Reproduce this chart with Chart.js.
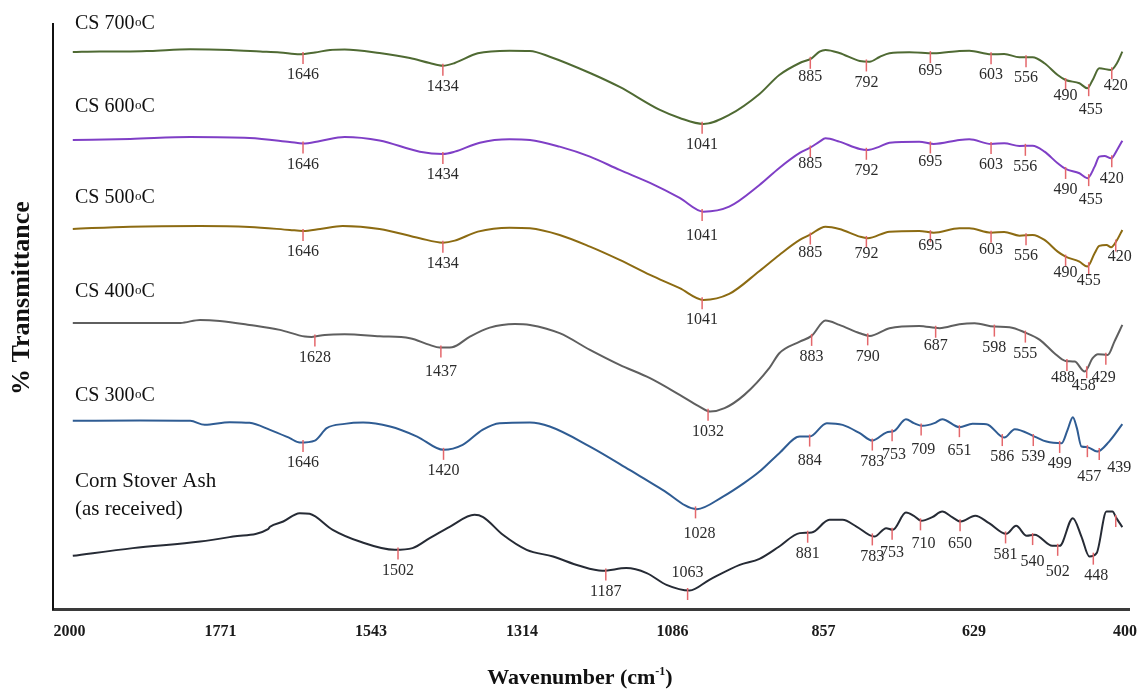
<!DOCTYPE html>
<html>
<head>
<meta charset="utf-8">
<title>FTIR spectra of corn stover ash</title>
<script src="https://cdn.jsdelivr.net/npm/chart.js@4.4.1/dist/chart.umd.min.js"></script>
<style>
  html, body { margin: 0; padding: 0; background: #ffffff; }
  #ftir { display: block; }
</style>
</head>
<body>
<canvas id="ftir" width="1137" height="690"></canvas>
<script>
// wavenumber axis (cm-1), drawn high -> low
const tickValues = [2000, 1771, 1543, 1314, 1086, 857, 629, 400];

const seriesNames = ['CS 700', 'CS 600', 'CS 500', 'CS 400', 'CS 300', 'Corn Stover Ash'];
const seriesColors = ['#4f6a33', '#7f3fc6', '#8c6b12', '#5f5f5f', '#2f5c93', '#262b35'];
// vertical offset of each trace (a.u.)
const seriesOffsets = [558, 470, 381, 287, 189, 54];

// traces: [wavenumber, relative transmittance (a.u.)]
const cs700 = [
  [1995, 0], [1954, 0.5], [1908, 0.5], [1878, 1], [1817, 2.7], [1757, 2], [1711, 0.5], [1681, -0.5],
  [1651, -2.3], [1628, -0.5], [1605, 2], [1583, 2.5], [1530, -1], [1484, -6], [1454, -11], [1434, -13.7],
  [1416, -11], [1381, -1.3], [1333, 1.3], [1302, 1], [1272, -4.7], [1211, -21], [1166, -35], [1105, -58],
  [1075, -66], [1039, -72], [1000, -63], [954, -42], [924, -23], [893, -11], [875, -6.3], [863, 0.3],
  [854, 2], [833, -1], [802, -9], [787, -9.7], [772, -5], [757, -1.3], [727, -0.3], [690, -1.3],
  [651, 1], [636, 1.3], [603, -2.3], [583, -2], [560, -5.3], [540, -5.3], [522, -11.3], [502, -23],
  [490, -28], [469, -31.3], [457, -36.3], [449, -28], [439, -16.3], [421, -18], [412, -11], [404, 0.3]
];
const cs600 = [
  [1995, 0], [1908, 1], [1817, 3], [1727, 2], [1666, -2], [1646, -3.5], [1620, -1], [1583, 3],
  [1530, -0.5], [1469, -11.7], [1434, -14], [1416, -11.7], [1378, -2.7], [1333, 0.7], [1302, 0],
  [1257, -6.7], [1211, -16.7], [1166, -30], [1120, -43], [1075, -58], [1039, -71.7], [1000, -66.7],
  [954, -45], [924, -28], [893, -13], [878, -8], [863, -1.7], [854, 1.7], [833, -1.7], [802, -9],
  [790, -10], [772, -6.7], [757, -2.7], [712, -1.7], [690, -4], [651, 0], [636, 0.7], [603, -4],
  [583, -3.3], [560, -6], [540, -5.7], [522, -11.7], [502, -23.3], [490, -29], [469, -33.3],
  [457, -38.3], [446, -26.7], [439, -16.7], [431, -16], [421, -18.3], [412, -10], [404, -0.7]
];
const cs500 = [
  [1995, 0], [1908, 2.3], [1802, 3], [1727, 2], [1666, -1], [1646, -2], [1620, 0], [1586, 3],
  [1530, 0], [1469, -9.3], [1434, -13.7], [1416, -11.7], [1381, -2.7], [1333, 1.3], [1302, 0.7],
  [1257, -6], [1211, -17.7], [1166, -31], [1120, -46], [1075, -59.3], [1039, -71], [1000, -65],
  [954, -42], [924, -26], [893, -11], [878, -6], [854, 2.3], [833, 0], [802, -7.7], [790, -9.3],
  [757, -2.7], [712, -2], [690, -3.7], [651, 0.7], [636, 0.7], [603, -3.7], [583, -3], [560, -6.7],
  [540, -6], [522, -11], [502, -22.7], [490, -27.7], [469, -32.7], [457, -37.7], [446, -24.3],
  [439, -17], [428, -16], [421, -18.3], [412, -11], [404, -1]
];
const cs400 = [
  [1995, 0], [1832, 0], [1802, 3], [1772, 2], [1727, -2], [1681, -7], [1643, -13.7], [1633, -14],
  [1613, -12], [1583, -11.3], [1530, -13.3], [1484, -15.3], [1454, -22], [1439, -24.7], [1420, -24.3],
  [1393, -13.7], [1363, -4.7], [1325, -1], [1302, -2], [1257, -10.3], [1211, -27], [1166, -42],
  [1120, -55.3], [1075, -72], [1045, -83.7], [1029, -88.7], [1007, -85.3], [977, -72], [939, -45],
  [924, -30.3], [893, -18.7], [875, -13], [854, 2.3], [833, -2], [802, -10.3], [787, -13],
  [757, -5.3], [712, -3], [681, -5.3], [651, -1.3], [628, -0.3], [598, -3.7], [575, -4.3],
  [551, -9.7], [529, -17], [507, -30.3], [490, -38], [476, -38.7], [461, -48.7], [449, -35.3],
  [441, -31.3], [426, -32], [416, -18.7], [404, -2]
];
const cs300 = [
  [1995, 0], [1893, 0.3], [1817, 0], [1795, -4], [1757, -1.3], [1727, -2], [1696, -9], [1666, -17.3],
  [1651, -21.7], [1628, -19.7], [1610, -7.3], [1583, -3], [1555, -1.7], [1514, -5.7], [1473, -15.7],
  [1433, -29], [1404, -24], [1374, -9], [1348, -2.3], [1302, -1.7], [1272, -5.7], [1211, -25.7],
  [1151, -49], [1101, -69], [1049, -88.3], [1010, -76], [977, -62], [954, -50.7], [924, -32.3],
  [893, -15.7], [878, -15.7], [852, -2.3], [828, -4], [802, -12.3], [783, -19.7], [762, -11.7],
  [749, -9.7], [732, 1.7], [720, -2.3], [707, -5], [689, -2.3], [677, 1.7], [651, -6.3], [631, -3],
  [610, -3.3], [583, -16.7], [567, -8.3], [537, -15.7], [519, -20.7], [496, -22.3], [487, -9],
  [479, 3.7], [473, -7], [466, -25.7], [457, -26.3], [442, -30.7], [424, -20.7], [404, -3.3]
];
const cornAsh = [
  [1995, 0], [1904, 7.7], [1802, 14.3], [1752, 19.3], [1699, 26.7], [1696, 29], [1676, 34.3],
  [1651, 42.7], [1636, 42], [1601, 26], [1560, 14.3], [1507, 6], [1480, 7.7], [1454, 17.7],
  [1423, 29.3], [1386, 41], [1373, 38.7], [1343, 21], [1307, 6], [1267, -0.7], [1227, -10],
  [1192, -15], [1156, -12.3], [1125, -17.3], [1095, -29], [1060, -34.7], [1030, -24], [984, -9],
  [954, -3], [924, 9.3], [893, 22.7], [875, 23.3], [848, 36], [828, 36], [807, 29.3], [780, 19.3],
  [762, 27.7], [752, 26], [732, 43.3], [720, 40], [709, 35], [692, 38.7], [677, 44.3], [662, 38.7],
  [649, 34.3], [627, 40], [606, 32.7], [580, 22], [565, 30], [549, 20], [537, 21], [510, 10],
  [499, 10], [479, 37.7], [466, 19.3], [454, -0.7], [443, 2.7], [428, 44.3], [419, 44.3],
  [413, 37.7], [404, 28.7]
];

// marked bands: [label, wavenumber where the mark sits]
const cs700Peaks = [[1646, 1646], [1434, 1434], [1041, 1041], [885, 877], [792, 792], [695, 695],
  [603, 603], [556, 550], [490, 490], [455, 455], [420, 420]];
const cs600Peaks = [[1646, 1646], [1434, 1434], [1041, 1041], [885, 877], [792, 792], [695, 695],
  [603, 603], [556, 551], [490, 490], [455, 455], [420, 420]];
const cs500Peaks = [[1646, 1646], [1434, 1434], [1041, 1041], [885, 877], [792, 792], [695, 695],
  [603, 603], [556, 550], [490, 490], [455, 455], [420, 414]];
const cs400Peaks = [[1628, 1628], [1437, 1437], [1032, 1032], [883, 875], [790, 790], [687, 687],
  [598, 598], [555, 551], [488, 488], [458, 458], [429, 429]];
const cs300Peaks = [[1646, 1646], [1420, 1433], [1028, 1051], [884, 878], [783, 783], [753, 753],
  [709, 709], [651, 651], [586, 586], [539, 539], [499, 499], [457, 457], [439, 439]];
const cornPeaks = [[1502, 1502], [1187, 1187], [1063, 1063], [881, 881], [783, 783], [753, 753],
  [710, 710], [650, 650], [581, 581], [540, 540], [502, 502], [448, 448], ['', 414]];

const traces = [cs700, cs600, cs500, cs400, cs300, cornAsh];
const peakSets = [cs700Peaks, cs600Peaks, cs500Peaks, cs400Peaks, cs300Peaks, cornPeaks];

// label placement tweaks [dx, dy] (px) where a label sits off the default spot
const labelNudges = [
  {885: [0, 18], 695: [0, 18], 490: [0, 16], 455: [2, 24], 420: [4, 17]},
  {1041: [0, 25], 885: [0, 16], 695: [0, 18], 455: [2, 24]},
  {885: [0, 18], 792: [0, 16], 695: [0, 14], 603: [0, 17], 490: [0, 16], 455: [0, 17], 420: [4, 15]},
  {1437: [0, 24], 687: [0, 18], 488: [-4, 17], 458: [-3, 18], 429: [-2, 23]},
  {1028: [4, 25], 884: [0, 24], 753: [2, 24], 709: [2, 24], 651: [0, 24], 457: [2, 30], 439: [20, 18]},
  {1063: [0, -17], 753: [0, 23], 710: [3, 23], 650: [0, 23], 540: [0, 27], 502: [0, 26], 448: [3, 21]}
];
// where each trace name sits above its trace (a.u. above the offset)
const nameLift = [28, 33, 31, 31, 25, 74];

function valueAt(points, wn) {
  for (let i = 0; i < points.length - 1; i++) {
    const a = points[i], b = points[i + 1];
    if (wn <= a.x && wn >= b.x) {
      const t = (a.x - wn) / (a.x - b.x);
      return a.y + t * (b.y - a.y);
    }
  }
  return points[points.length - 1].y;
}

const annotate = {
  id: 'annotate',
  afterDatasetsDraw(chart) {
    const {ctx, scales: {x, y}, chartArea} = chart;
    ctx.save();
    chart.data.datasets.forEach((ds, i) => {
      // band marks + numbers
      ctx.font = '16px "Liberation Serif", serif';
      ctx.textAlign = 'center';
      ctx.textBaseline = 'middle';
      peakSets[i].forEach(([label, at]) => {
        const px = x.getPixelForValue(at);
        const py = y.getPixelForValue(valueAt(ds.data, at));
        ctx.strokeStyle = '#e4676b';
        ctx.lineWidth = 1.5;
        ctx.beginPath();
        ctx.moveTo(px, py - 2);
        ctx.lineTo(px, py + 10);
        ctx.stroke();
        if (label === '') return;
        const [dx, dy] = labelNudges[i][label] || [0, 21];
        ctx.fillStyle = '#2b2b2b';
        ctx.fillText(String(label), px + dx, py + dy);
      });

      // trace name
      const nx = chartArea.left + 22;
      const ny = y.getPixelForValue(seriesOffsets[i] + nameLift[i]);
      ctx.fillStyle = '#111';
      ctx.textAlign = 'left';
      if (i < 5) {
        ctx.font = '20px "Liberation Serif", serif';
        const head = seriesNames[i];
        ctx.fillText(head, nx, ny);
        let w = ctx.measureText(head).width;
        ctx.font = '13px "Liberation Serif", serif';
        ctx.fillText('o', nx + w + 0.5, ny - 1);
        w += ctx.measureText('o').width + 0.5;
        ctx.font = '20px "Liberation Serif", serif';
        ctx.fillText('C', nx + w, ny);
      } else {
        ctx.font = '21px "Liberation Serif", serif';
        ctx.fillText(seriesNames[i], nx, ny);
        ctx.fillText('(as received)', nx, ny + 28);
      }
    });
    ctx.restore();
  },
  afterDraw(chart) {
    const {ctx} = chart;
    ctx.save();
    ctx.fillStyle = '#111';
    // y title
    ctx.font = 'bold 26px "Liberation Serif", serif';
    ctx.textAlign = 'center';
    ctx.textBaseline = 'middle';
    ctx.translate(22, 298);
    ctx.rotate(-Math.PI / 2);
    ctx.fillText('% Transmittance', 0, 0);
    ctx.setTransform(1, 0, 0, 1, 0, 0);
    // x title with superscript
    const main = 'Wavenumber (cm', sup = '-1', tail = ')';
    ctx.font = 'bold 22px "Liberation Serif", serif';
    const wMain = ctx.measureText(main).width, wTail = ctx.measureText(tail).width;
    ctx.font = 'bold 12px "Liberation Serif", serif';
    const wSup = ctx.measureText(sup).width;
    let sx = 580 - (wMain + wSup + wTail) / 2;
    const sy = 678;
    ctx.textAlign = 'left';
    ctx.font = 'bold 22px "Liberation Serif", serif';
    ctx.fillText(main, sx, sy);
    sx += wMain;
    ctx.font = 'bold 12px "Liberation Serif", serif';
    ctx.fillText(sup, sx, sy - 6);
    sx += wSup;
    ctx.font = 'bold 22px "Liberation Serif", serif';
    ctx.fillText(tail, sx, sy);
    ctx.restore();
  }
};

const datasets = traces.map((trace, i) => ({
  label: seriesNames[i],
  data: trace.map(([wn, t]) => ({x: wn, y: t + seriesOffsets[i]})),
  borderColor: seriesColors[i],
  borderWidth: 2,
  pointRadius: 0,
  fill: false,
  cubicInterpolationMode: 'monotone'
}));

new Chart(document.getElementById('ftir'), {
  type: 'line',
  data: { datasets: datasets },
  options: {
    responsive: false,
    animation: false,
    devicePixelRatio: 1,
    layout: { padding: { left: 53, right: 7, top: 24, bottom: 49 } },
    plugins: {
      legend: { display: false },
      tooltip: { enabled: false }
    },
    scales: {
      x: {
        type: 'linear',
        reverse: true,
        min: 393,
        max: 2025,
        afterBuildTicks: function (scale) {
          scale.ticks = tickValues.map(v => ({ value: v }));
        },
        grid: { display: false, drawTicks: true, tickLength: 12 },
        border: { display: true, color: '#3a3a3a', width: 3 },
        ticks: {
          padding: 0,
          maxRotation: 0,
          autoSkip: false,
          color: '#1a1a1a',
          font: { family: '"Liberation Serif", serif', size: 16, weight: 'bold' },
          callback: function (value) { return String(value); }
        }
      },
      y: {
        min: 0,
        max: 586,
        grid: { display: false, drawTicks: false },
        border: { display: true, color: '#111', width: 2 },
        ticks: { display: false }
      }
    }
  },
  plugins: [annotate]
});
</script>
</body>
</html>
